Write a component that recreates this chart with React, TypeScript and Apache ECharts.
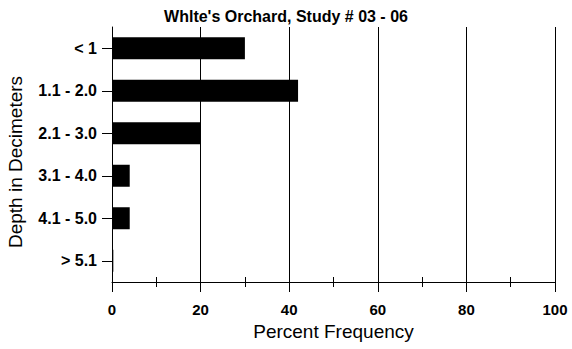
import React, { useEffect, useRef } from "react";
import * as echarts from "echarts";

const categories = ["< 1", "1.1 - 2.0", "2.1 - 3.0", "3.1 - 4.0", "4.1 - 5.0", "> 5.1"];
const percentFrequency = [30, 42, 20, 4, 4, 0.3];
const titleText = "Whlte's Orchard, Study # 03 - 06";
const xAxisName = "Percent Frequency";
const yAxisName = "Depth in Decimeters";

const FONT = "'Liberation Sans', Arial, Helvetica, sans-serif";

export default function App() {
  const ref = useRef<HTMLDivElement>(null);
  useEffect(() => {
    if (!ref.current) return;
    const chart = echarts.init(ref.current, null, { renderer: "svg" });
    chart.setOption({
      animation: false,
      backgroundColor: "#ffffff",
      title: {
        text: titleText,
        left: "center",
        top: 3,
        textStyle: { fontFamily: FONT, fontSize: 16, fontWeight: "bold", color: "#000" },
      },
      grid: {
        left: 112,
        right: 17,
        top: 27,
        bottom: 67,
        containLabel: false,
        outerBoundsMode: "none",
      },
      xAxis: [
        {
          type: "value",
          min: 0,
          max: 100,
          interval: 20,
          name: xAxisName,
          nameLocation: "middle",
          nameGap: 35,
          nameTextStyle: { fontFamily: FONT, fontSize: 19, color: "#000" },
          axisLine: { show: true, lineStyle: { color: "#000", width: 1 } },
          axisTick: { show: true, length: 10, lineStyle: { color: "#000" } },
          minorTick: { show: true, splitNumber: 2, length: 5, lineStyle: { color: "#000" } },
          axisLabel: { fontFamily: FONT, fontSize: 15, fontWeight: "bold", color: "#000", margin: 20 },
          splitLine: { show: true, lineStyle: { color: "#000", width: 1 } },
        },
        {
          type: "value",
          min: 0,
          max: 100,
          interval: 10,
          position: "bottom",
          axisLine: { show: false },
          axisTick: { show: true, inside: true, length: 5, lineStyle: { color: "#000" } },
          axisLabel: { show: false },
          splitLine: { show: false },
        },
      ],
      yAxis: {
        type: "category",
        data: categories,
        inverse: true,
        name: yAxisName,
        nameLocation: "middle",
        nameGap: 87,
        nameTextStyle: { fontFamily: FONT, fontSize: 19, color: "#000", padding: [0, 15, 0, 0] },
        axisLine: { show: true, lineStyle: { color: "#000", width: 1 } },
        axisTick: { show: true, length: 10, alignWithLabel: true, lineStyle: { color: "#000" } },
        axisLabel: { fontFamily: FONT, fontSize: 16, fontWeight: "bold", color: "#000", margin: 15 },
        splitLine: { show: false },
      },
      series: [
        {
          type: "bar",
          xAxisIndex: 0,
          data: percentFrequency,
          barWidth: 22,
          itemStyle: { color: "#000" },
        },
      ],
    });
    return () => chart.dispose();
  }, []);
  return (
    <div
      ref={ref}
      style={{ position: "absolute", left: 0, top: 0, width: 572, height: 349 }}
    />
  );
}
